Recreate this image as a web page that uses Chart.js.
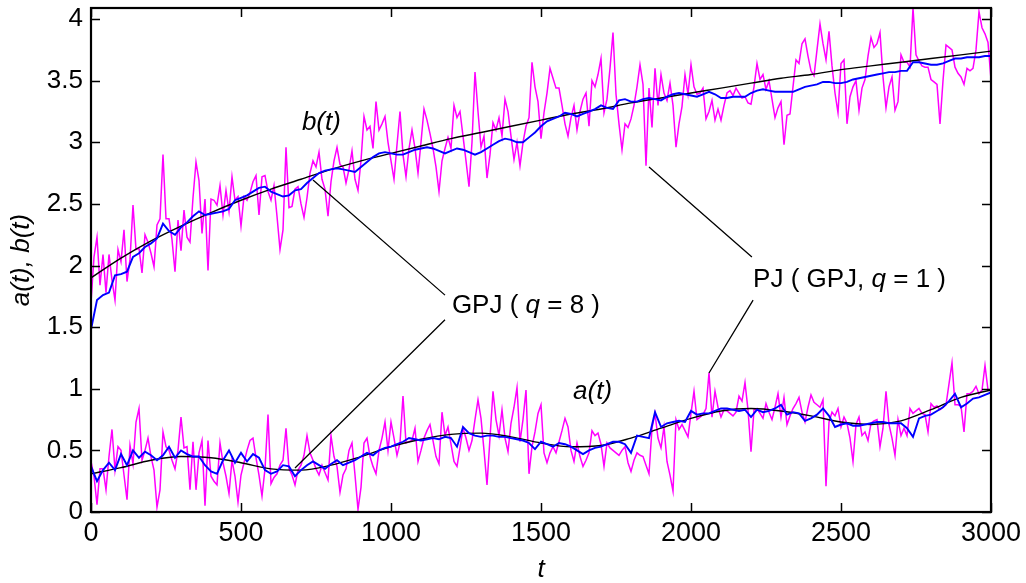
<!DOCTYPE html>
<html>
<head>
<meta charset="utf-8">
<script src="https://cdn.jsdelivr.net/npm/chart.js@4.4.1/dist/chart.umd.min.js"></script>
<style>
  html, body { margin: 0; padding: 0; background: #fff; }
</style>
</head>
<body>
<canvas id="chart" width="1026" height="583"></canvas>
<script>
// sampling steps of the three kinds of series (in t units)
const PJ_STEP = 10;
const GPJ_STEP = 20;
const TRUE_STEP = 100;

const xTicks = [0, 500, 1000, 1500, 2000, 2500, 3000];
const yTicks = [0, 0.5, 1, 1.5, 2, 2.5, 3, 3.5, 4];

// true curves, every 100
const bTrue = [1.90, 2.06, 2.20, 2.32, 2.43, 2.53, 2.62, 2.70, 2.78, 2.85, 2.91, 2.97, 3.03, 3.08, 3.13, 3.18,
  3.23, 3.27, 3.32, 3.36, 3.40, 3.44, 3.48, 3.52, 3.55, 3.59, 3.62, 3.65, 3.68, 3.71, 3.74];
const aTrue = [0.31, 0.36, 0.42, 0.45, 0.44, 0.40, 0.35, 0.34, 0.38, 0.45, 0.53, 0.59, 0.63, 0.64, 0.61, 0.56,
  0.53, 0.54, 0.60, 0.68, 0.76, 0.82, 0.84, 0.82, 0.78, 0.73, 0.71, 0.74, 0.83, 0.93, 0.99];

// GPJ (q = 8) estimates, every 20
const bGPJ = [
  1.48, 1.72, 1.76, 1.78, 1.92,  1.93, 1.95, 2.07, 2.10, 2.15,
  2.18, 2.22, 2.34, 2.28, 2.25,  2.31, 2.35, 2.40, 2.44, 2.41,
  2.42, 2.43, 2.44, 2.46, 2.53,  2.55, 2.57, 2.60, 2.63, 2.64,
  2.60, 2.58, 2.56, 2.57, 2.61,  2.62, 2.67, 2.71, 2.75, 2.77,
  2.78, 2.79, 2.78, 2.77, 2.76,  2.80, 2.84, 2.88, 2.91, 2.92,
  2.91, 2.90, 2.90, 2.92, 2.94,  2.95, 2.96, 2.95, 2.93, 2.91,
  2.93, 2.95, 2.94, 2.92, 2.90,  2.92, 2.95, 2.98, 3.01, 3.03,
  3.02, 3.00, 3.00, 3.04, 3.08,  3.13, 3.17, 3.19, 3.21, 3.24,
  3.23, 3.21, 3.23, 3.25, 3.27,  3.30, 3.28, 3.27, 3.34, 3.35,
  3.33, 3.33, 3.35, 3.36, 3.35,  3.34, 3.37, 3.39, 3.40, 3.39,
  3.38, 3.37, 3.39, 3.41, 3.39,  3.36, 3.36, 3.37, 3.37, 3.37,
  3.40, 3.42, 3.43, 3.42, 3.41,  3.41, 3.41, 3.41, 3.43, 3.45,
  3.46, 3.47, 3.49, 3.49, 3.48,  3.48, 3.49, 3.51, 3.52, 3.53,
  3.54, 3.55, 3.56, 3.57, 3.57,  3.58, 3.58, 3.65, 3.65, 3.64,
  3.63, 3.63, 3.64, 3.66, 3.68,  3.68, 3.69, 3.69, 3.69, 3.70,
  3.70];
const aGPJ = [
  0.37, 0.25, 0.34, 0.40, 0.34,  0.47, 0.38, 0.50, 0.44, 0.49,
  0.46, 0.42, 0.46, 0.53, 0.44,  0.50, 0.47, 0.45, 0.45, 0.38,
  0.33, 0.31, 0.42, 0.50, 0.40,  0.48, 0.41, 0.47, 0.44, 0.34,
  0.31, 0.33, 0.38, 0.37, 0.29,  0.34, 0.38, 0.41, 0.38, 0.35,
  0.39, 0.42, 0.38, 0.40, 0.42,  0.45, 0.48, 0.46, 0.50, 0.52,
  0.53, 0.55, 0.57, 0.60, 0.59,  0.58, 0.59, 0.60, 0.59, 0.61,
  0.60, 0.53, 0.69, 0.64, 0.62,  0.61, 0.62, 0.62, 0.61, 0.61,
  0.60, 0.59, 0.58, 0.56, 0.51,  0.57, 0.55, 0.53, 0.56, 0.55,
  0.53, 0.50, 0.47, 0.50, 0.52,  0.53, 0.55, 0.57, 0.57, 0.55,
  0.48, 0.62, 0.61, 0.60, 0.81,  0.69, 0.72, 0.73, 0.74, 0.73,
  0.82, 0.79, 0.80, 0.80, 0.82,  0.84, 0.84, 0.83, 0.82, 0.83,
  0.77, 0.83, 0.81, 0.82, 0.84,  0.87, 0.79, 0.81, 0.80, 0.74,
  0.76, 0.79, 0.84, 0.78, 0.69,  0.71, 0.72, 0.70, 0.70, 0.71,
  0.72, 0.73, 0.73, 0.72, 0.72,  0.72, 0.68, 0.61, 0.76, 0.78,
  0.79, 0.82, 0.85, 0.90, 0.96,  0.85, 0.88, 0.92, 0.93, 0.95,
  0.97];

// PJ (GPJ, q = 1) estimates, every 10
const bPJ = [
  1.70, 2.07, 2.23, 1.84, 2.09, 1.78, 2.09, 1.88, 1.72, 2.13,
  2.03, 2.29, 1.87, 2.05, 2.49, 2.13, 2.14, 1.94, 2.25, 2.19,
  2.10, 1.99, 2.33, 2.38, 2.90, 2.38, 2.38, 2.21, 1.95, 2.37,
  2.12, 2.45, 2.23, 2.19, 2.55, 2.84, 2.69, 2.26, 2.54, 1.96,
  2.54, 2.53, 2.49, 2.65, 2.41, 2.61, 2.44, 2.72, 2.53, 2.56,
  2.32, 2.56, 2.53, 2.59, 2.68, 2.73, 2.41, 2.72, 2.73, 2.60,
  2.53, 2.65, 2.40, 2.13, 2.29, 2.96, 2.47, 2.48, 2.62, 2.64,
  2.50, 2.39, 2.55, 2.75, 2.85, 2.80, 2.92, 2.70, 2.62, 2.40,
  2.68, 2.85, 2.96, 2.82, 2.80, 2.67, 2.78, 2.93, 2.70, 2.61,
  2.85, 3.21, 3.10, 3.13, 2.95, 3.33, 3.10, 3.15, 3.21, 3.00,
  2.85, 2.70, 2.98, 3.25, 2.90, 2.72, 2.95, 3.10, 2.95, 2.75,
  3.00, 3.27, 3.18, 3.07, 2.95, 2.80, 2.60, 2.85, 2.95, 3.04,
  2.95, 3.30, 3.20, 3.25, 3.05, 2.85, 2.64, 3.00, 3.57, 3.25,
  2.96, 3.05, 2.71, 2.90, 3.16, 3.10, 3.20, 3.05, 3.35, 3.25,
  3.05, 2.86, 3.00, 2.81, 3.00, 3.13, 3.20, 3.65, 3.45, 3.33,
  3.03, 3.24, 3.40, 3.60, 3.52, 3.44, 3.44, 3.30, 3.15, 3.05,
  3.20, 3.30, 3.10, 3.25, 3.35, 3.40, 3.13, 3.50, 3.45, 3.55,
  3.68, 3.24, 3.35, 3.60, 3.89, 3.39, 3.15, 2.94, 3.15, 3.12,
  3.19, 3.30, 3.45, 3.63, 3.47, 2.81, 3.44, 3.12, 3.60, 3.30,
  3.55, 3.40, 3.34, 3.48, 3.30, 2.96, 3.15, 3.29, 3.55, 3.39,
  3.63, 3.45, 3.39, 3.40, 3.44, 3.19, 3.25, 3.34, 3.18, 3.27,
  3.18, 3.30, 3.40, 3.42, 3.38, 3.44, 3.40, 3.36, 3.37, 3.32,
  3.31, 3.45, 3.64, 3.51, 3.55, 3.43, 3.50, 3.35, 3.20, 3.28,
  3.33, 2.98, 3.22, 3.23, 3.45, 3.67, 3.64, 3.80, 3.84, 3.70,
  3.58, 3.54, 3.75, 3.96, 3.80, 3.67, 3.90, 3.62, 3.40, 3.24,
  3.64, 3.67, 3.15, 3.37, 3.45, 3.50, 3.26, 3.44, 3.51, 3.70,
  3.85, 3.77, 3.80, 3.89, 3.53, 3.28, 3.45, 3.53, 3.26, 3.33,
  3.71, 3.65, 3.65, 3.61, 4.09, 3.71, 3.66, 3.62, 3.61, 3.61,
  3.51, 3.49, 3.47, 3.15, 3.50, 3.79, 3.77, 3.75, 3.61, 3.56,
  3.53, 3.47, 3.60, 3.58, 3.60, 3.75, 4.06, 3.93, 3.88, 3.81,
  3.51];
const aPJ = [
  0.41, 0.29, 0.06, 0.35, 0.35, 0.18, 0.45, 0.67, 0.34, 0.53,
  0.50, 0.30, 0.10, 0.54, 0.39, 0.73, 0.84, 0.42, 0.50, 0.60,
  0.45, 0.34, 0.04, 0.18, 0.65, 0.53, 0.50, 0.42, 0.35, 0.50,
  0.77, 0.52, 0.53, 0.18, 0.57, 0.18, 0.48, 0.58, 0.05, 0.58,
  0.29, 0.25, 0.22, 0.56, 0.40, 0.29, 0.15, 0.42, 0.29, 0.08,
  0.30, 0.40, 0.50, 0.58, 0.60, 0.44, 0.30, 0.13, 0.35, 0.79,
  0.23, 0.28, 0.31, 0.38, 0.42, 0.68, 0.35, 0.30, 0.22, 0.34,
  0.38, 0.46, 0.62, 0.48, 0.42, 0.35, 0.30, 0.38, 0.32, 0.26,
  0.62, 0.45, 0.37, 0.16, 0.30, 0.35, 0.50, 0.56, 0.30, 0.02,
  0.20, 0.56, 0.60, 0.45, 0.37, 0.31, 0.50, 0.60, 0.73, 0.50,
  0.73, 0.60, 0.46, 0.56, 0.94, 0.56, 0.57, 0.58, 0.68, 0.41,
  0.50, 0.60, 0.66, 0.71, 0.58, 0.45, 0.39, 0.81, 0.62, 0.69,
  0.55, 0.41, 0.37, 0.52, 0.68, 0.60, 0.50, 0.58, 0.75, 0.91,
  0.76, 0.50, 0.22, 0.60, 0.98, 0.75, 0.62, 0.83, 0.60, 0.49,
  0.72, 0.85, 1.01, 0.57, 0.75, 0.99, 0.31, 0.53, 0.65, 0.80,
  0.87, 0.48, 0.40, 0.48, 0.53, 0.48, 0.57, 0.66, 0.76, 0.69,
  0.50, 0.41, 0.56, 0.45, 0.37, 0.42, 0.48, 0.66, 0.62, 0.64,
  0.55, 0.37, 0.56, 0.52, 0.50, 0.48, 0.46, 0.50, 0.53, 0.40,
  0.33, 0.42, 0.48, 0.46, 0.45, 0.38, 0.31, 0.68, 0.80, 0.60,
  0.52, 0.69, 0.41, 0.30, 0.17, 0.75, 0.67, 0.71, 0.66, 0.61,
  0.80, 0.98, 0.75, 0.77, 0.79, 0.84, 1.13, 0.77, 0.98, 0.85,
  0.77, 0.83, 0.82, 0.80, 0.78, 0.81, 0.94, 0.90, 1.05, 0.83,
  0.49, 0.83, 0.84, 0.80, 0.76, 0.88, 0.81, 0.75, 0.85, 0.96,
  0.77, 0.93, 0.71, 0.78, 0.84, 0.88, 0.93, 0.81, 0.73, 0.85,
  0.95, 0.89, 0.87, 0.85, 0.91, 0.21, 0.73, 0.81, 0.78, 0.84,
  0.69, 0.77, 0.72, 0.60, 0.41, 0.71, 0.77, 0.62, 0.65, 0.58,
  0.72, 0.74, 0.75, 0.53, 0.68, 0.98, 0.71, 0.60, 0.46, 0.75,
  0.62, 0.68, 0.62, 0.84, 0.80, 0.82, 0.84, 0.80, 0.79, 0.65,
  0.88, 0.85, 0.86, 0.83, 0.85, 0.87, 1.04, 1.21, 0.87, 0.87,
  0.86, 0.65, 0.96, 0.96, 0.98, 1.02, 0.96, 0.99, 1.19, 0.99,
  0.98];

// callout lines and labels, given in data units (t, value)
const callouts = [
  [[740, 2.695], [1180, 1.76]],
  [[1180, 1.56], [680, 0.357]],
  [[1860, 2.80], [2203, 2.07]],
  [[2207, 1.72], [2060, 1.128]]
];
const notes = [
  { t: 703, v: 3.10, parts: [['b(t)', true]] },
  { t: 1607, v: 0.917, parts: [['a(t)', true]] },
  { t: 1203, v: 1.615, parts: [['GPJ ( ', false], ['q', true], [' = 8 )', false]] },
  { t: 2207, v: 1.826, parts: [['PJ ( GPJ, ', false], ['q', true], [' = 1 )', false]] }
];

const FONT = "'Liberation Sans', Arial, Helvetica, sans-serif";
const NARROW = "'Liberation Sans Narrow', 'Arial Narrow', 'Liberation Sans', Arial, sans-serif";

function toPoints(values, step) {
  return values.map((v, i) => ({ x: i * step, y: v }));
}

function line(label, values, step, color, width, order, smooth) {
  return {
    label: label,
    data: toPoints(values, step),
    borderColor: color,
    borderWidth: width,
    pointRadius: 0,
    fill: false,
    order: order,
    cubicInterpolationMode: smooth ? 'monotone' : 'default',
    tension: 0
  };
}

// frame, inward ticks on all four sides, callouts and labels
const framePlugin = {
  id: 'framePlugin',
  afterDatasetsDraw(chart) {
    const { ctx, chartArea: a, scales: { x, y } } = chart;
    ctx.save();
    ctx.strokeStyle = '#000';
    ctx.lineWidth = 1.5;
    ctx.beginPath();
    xTicks.forEach(v => {
      const px = Math.round(x.getPixelForValue(v)) + 0.5;
      ctx.moveTo(px, a.bottom); ctx.lineTo(px, a.bottom - 9);
      ctx.moveTo(px, a.top); ctx.lineTo(px, a.top + 9);
    });
    yTicks.forEach(v => {
      const py = Math.round(y.getPixelForValue(v)) + 0.5;
      ctx.moveTo(a.left, py); ctx.lineTo(a.left + 9, py);
      ctx.moveTo(a.right, py); ctx.lineTo(a.right - 9, py);
    });
    ctx.stroke();
    ctx.lineWidth = 2.2;
    ctx.strokeRect(a.left, a.top, a.right - a.left, a.bottom - a.top);

    ctx.lineWidth = 1.3;
    ctx.beginPath();
    callouts.forEach(([p, q]) => {
      ctx.moveTo(x.getPixelForValue(p[0]), y.getPixelForValue(p[1]));
      ctx.lineTo(x.getPixelForValue(q[0]), y.getPixelForValue(q[1]));
    });
    ctx.stroke();

    ctx.fillStyle = '#000';
    ctx.textBaseline = 'alphabetic';
    ctx.textAlign = 'left';
    notes.forEach(n => {
      let px = x.getPixelForValue(n.t);
      const py = y.getPixelForValue(n.v);
      n.parts.forEach(([txt, italic]) => {
        ctx.font = (italic ? 'italic ' : '') + '26px ' + FONT;
        ctx.fillText(txt, px, py);
        px += ctx.measureText(txt).width;
      });
    });
    ctx.restore();
  }
};

const ctx = document.getElementById('chart').getContext('2d');

new Chart(ctx, {
  type: 'line',
  data: {
    datasets: [
      line('GPJ b', bGPJ, GPJ_STEP, '#0000ff', 1.9, 0, false),
      line('GPJ a', aGPJ, GPJ_STEP, '#0000ff', 1.9, 1, false),
      line('b(t)', bTrue, TRUE_STEP, '#000000', 1.4, 2, true),
      line('a(t)', aTrue, TRUE_STEP, '#000000', 1.4, 3, true),
      line('PJ b', bPJ, PJ_STEP, '#ff00ff', 1.5, 4, false),
      line('PJ a', aPJ, PJ_STEP, '#ff00ff', 1.5, 5, false)
    ]
  },
  options: {
    responsive: false,
    animation: false,
    devicePixelRatio: 1,
    layout: { padding: { left: 0, right: 35, top: 8, bottom: 0 } },
    plugins: {
      legend: { display: false },
      tooltip: { enabled: false }
    },
    scales: {
      x: {
        type: 'linear',
        min: 0,
        max: 3000,
        grid: { display: false, drawTicks: false },
        border: { display: false },
        ticks: {
          stepSize: 500,
          autoSkip: false,
          maxRotation: 0,
          includeBounds: false,
          padding: 5,
          color: '#000',
          font: { family: NARROW, size: 27 },
          callback: v => String(v)
        },
        title: {
          display: true,
          text: 't',
          color: '#000',
          font: { family: FONT, size: 26, style: 'italic', lineHeight: 1 },
          padding: { top: 0, bottom: 0 }
        },
        afterFit: s => { s.height = 71; s.paddingLeft = 0; s.paddingRight = 0; }
      },
      y: {
        type: 'linear',
        min: 0,
        max: 4.09,
        grid: { display: false, drawTicks: false },
        border: { display: false },
        ticks: {
          stepSize: 0.5,
          autoSkip: false,
          includeBounds: false,
          padding: 8,
          color: '#000',
          font: { family: FONT, size: 26 },
          callback: v => String(v)
        },
        title: {
          display: true,
          text: 'a(t), b(t)',
          color: '#000',
          font: { family: FONT, size: 26, style: 'italic', lineHeight: 1.2 },
          padding: { top: 6, bottom: 0 }
        },
        afterFit: s => { s.width = 91; s.paddingTop = 0; s.paddingBottom = 0; }
      }
    }
  },
  plugins: [framePlugin]
});
</script>
</body>
</html>
